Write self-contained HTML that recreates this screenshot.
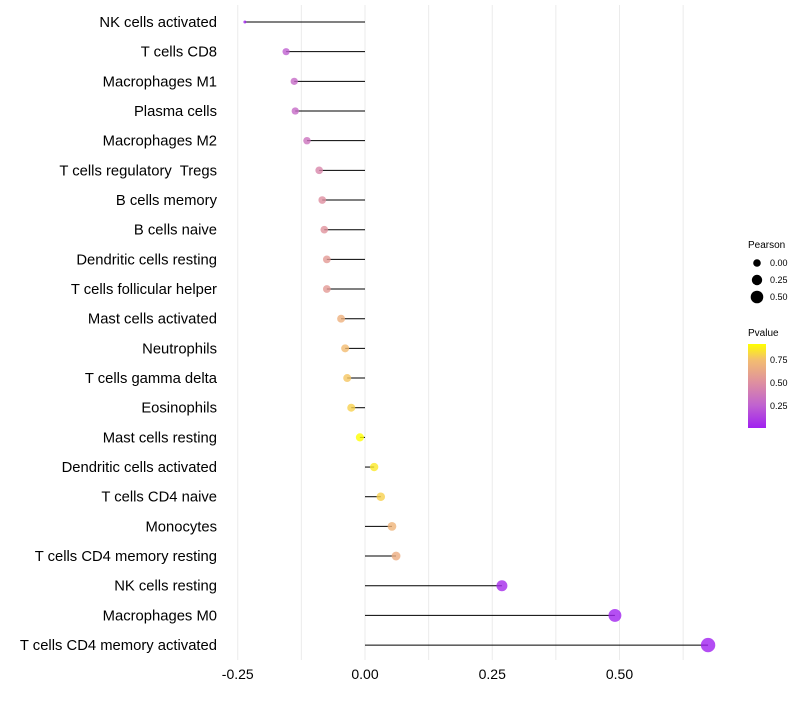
<!DOCTYPE html>
<html><head><meta charset="utf-8"><style>
body{margin:0;background:#fff;font-family:"Liberation Sans",sans-serif}
</style></head><body>
<svg id="chart" width="800" height="700" xmlns="http://www.w3.org/2000/svg">
<defs><linearGradient id="pg" x1="0" y1="1" x2="0" y2="0">
<stop offset="0" stop-color="#a020f0"/><stop offset="0.27" stop-color="#c062d0"/><stop offset="0.54" stop-color="#de8fa0"/><stop offset="0.81" stop-color="#f3bd70"/><stop offset="1" stop-color="#ffff00"/></linearGradient></defs>
<g id="grid"></g><g id="marks"></g><g id="labels"></g>
<g font-size="9">
<text x="748" y="248" font-size="10">Pearson</text>
<circle cx="757" cy="263" r="3.8"/><text x="770" y="266">0.00</text>
<circle cx="757" cy="280" r="5.2"/><text x="770" y="283">0.25</text>
<circle cx="757" cy="297" r="6.3"/><text x="770" y="300">0.50</text>
</g>
<g font-size="9">
<text x="748" y="336" font-size="10">Pvalue</text>
<rect x="748" y="344" width="18" height="84" fill="url(#pg)"/>
<text x="770" y="363">0.75</text><text x="770" y="386">0.50</text><text x="770" y="409">0.25</text>
</g>
</svg>
<script>
const categories=["NK cells activated","T cells CD8","Macrophages M1","Plasma cells","Macrophages M2","T cells regulatory  Tregs","B cells memory","B cells naive","Dendritic cells resting","T cells follicular helper","Mast cells activated","Neutrophils","T cells gamma delta","Eosinophils","Mast cells resting","Dendritic cells activated","T cells CD4 naive","Monocytes","T cells CD4 memory resting","NK cells resting","Macrophages M0","T cells CD4 memory activated"];
const pearson=[-0.236,-0.155,-0.139,-0.137,-0.114,-0.09,-0.084,-0.08,-0.075,-0.075,-0.047,-0.039,-0.035,-0.027,-0.01,0.018,0.031,0.053,0.061,0.269,0.491,0.674];
const pvalue=[0.02,0.25,0.3,0.3,0.35,0.45,0.5,0.52,0.56,0.56,0.68,0.74,0.77,0.8,0.92,0.86,0.8,0.7,0.66,0.05,0.02,0.01];
const xticks=[-0.25,0,0.25,0.5];
const xtickLabels=["-0.25","0.00","0.25","0.50"];
const NS="http://www.w3.org/2000/svg";
const X=v=>365+v*509;
const Y=i=>22+i*29.67;
const sizeDom=[-0.236,-0.155,0,0.25,0.5,0.674], sizeRng=[1.5,3.6,4.1,5.4,6.5,7.2];
function R(v){for(let k=1;k<sizeDom.length;k++){if(v<=sizeDom[k]){const t=(v-sizeDom[k-1])/(sizeDom[k]-sizeDom[k-1]);return sizeRng[k-1]+Math.max(0,t)*(sizeRng[k]-sizeRng[k-1]);}}return sizeRng[sizeRng.length-1];}
const cStops=[[0,[160,32,240]],[0.27,[192,98,208]],[0.54,[222,143,160]],[0.81,[243,189,112]],[1,[255,255,0]]];
function col(p){const t=Math.min(1,Math.max(0,(p-0.01)/0.91));for(let k=1;k<cStops.length;k++){if(t<=cStops[k][0]){const u=(t-cStops[k-1][0])/(cStops[k][0]-cStops[k-1][0]);const a=cStops[k-1][1],b=cStops[k][1];return `rgb(${a.map((x,j)=>Math.round(x+(b[j]-x)*u))})`;}}return 'rgb(255,255,0)';}
function mk(tag,at,parent){const e=document.createElementNS(NS,tag);for(const k in at)e.setAttribute(k,at[k]);parent.appendChild(e);return e;}
const grid=document.getElementById('grid'),marks=document.getElementById('marks'),labels=document.getElementById('labels');
for(let v=-0.25;v<=0.63;v+=0.125){const l=mk('line',{x1:X(v),x2:X(v),y1:5,y2:660,stroke:'#ebebeb','stroke-width':1},grid);

}
xticks.forEach((v,i)=>{const t=mk('text',{x:X(v),y:679,'text-anchor':'middle','font-size':14,fill:'#000'},labels);t.textContent=xtickLabels[i];

});
categories.forEach((c,i)=>{
const t=mk('text',{x:217,y:Y(i)+5,'text-anchor':'end','font-size':14.8,fill:'#000'},labels);t.textContent=c;
t.style.whiteSpace='pre';


const l=mk('line',{x1:X(0),x2:X(pearson[i]),y1:Y(i),y2:Y(i),stroke:'#000','stroke-width':1},marks);


const p=mk('circle',{cx:X(pearson[i]),cy:Y(i),r:R(pearson[i]),fill:col(pvalue[i]),'fill-opacity':0.8},marks);


});
</script>
</body></html>
